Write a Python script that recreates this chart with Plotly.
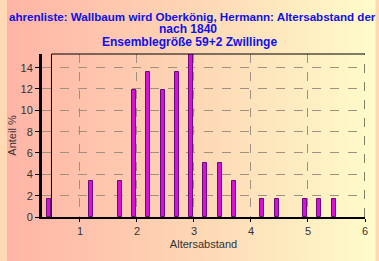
import plotly.graph_objects as go
import base64

# Data (percent of 59 siblings)
abstand = [0.45, 1.2, 1.7, 1.95, 2.2, 2.45, 2.7, 2.95, 3.2, 3.45, 3.7, 4.2, 4.45, 4.95, 5.2, 5.45]
anteil = [1.69, 3.39, 3.39, 11.86, 13.56, 11.86, 13.56, 15.25, 5.08, 5.08, 3.39, 1.69, 1.69, 1.69, 1.69, 1.69]
x_ticks = [1, 2, 3, 4, 5, 6]
y_ticks = [0, 2, 4, 6, 8, 10, 12, 14]

title1 = "ahrenliste: Wallbaum wird Oberkönig, Hermann: Altersabstand der Kinder"
title2 = "nach 1840"
title3 = "Ensemblegröße 59+2 Zwillinge"

W, H = 379, 261
ml, mr, mt, mb = 36, 11, 54, 44
pw, ph = W - ml - mr, H - mt - mb

svg = (
    '<svg xmlns="http://www.w3.org/2000/svg" width="379" height="261">'
    '<defs><linearGradient id="g" x1="0" y1="0" x2="1" y2="0">'
    '<stop offset="0" stop-color="#FFB4A6"/>'
    '<stop offset="0.5" stop-color="#FDD6B4"/>'
    '<stop offset="1" stop-color="#FFFCCA"/>'
    '</linearGradient></defs>'
    '<rect width="379" height="261" fill="url(#g)"/></svg>'
)
src = "data:image/svg+xml;base64," + base64.b64encode(svg.encode()).decode()

fig = go.Figure()
fig.add_trace(go.Bar(
    x=abstand, y=anteil, width=0.07,
    marker=dict(color="#D810D8", line=dict(color="#6A0A7A", width=1)),
))

fig.add_layout_image(dict(
    source=src, xref="paper", yref="paper",
    x=-ml / pw, y=1 + mt / ph, sizex=W / pw, sizey=H / ph,
    sizing="stretch", xanchor="left", yanchor="top", layer="below",
))

tcol = "#1010E8"
fig.add_annotation(text="<b>" + title1 + "</b>", xref="paper", yref="paper",
                   x=-ml / pw + 1 / pw, y=1 + (mt - 16) / ph, xanchor="left", yanchor="middle",
                   showarrow=False, borderpad=0,
                   font=dict(family="Liberation Sans", size=11.6, color=tcol))
fig.add_annotation(text="<b>" + title2 + "</b>", xref="paper", yref="paper",
                   x=(186 - ml) / pw, y=1 + (mt - 29) / ph, xanchor="center", yanchor="middle",
                   showarrow=False, borderpad=0,
                   font=dict(family="Liberation Sans", size=12, color=tcol))
fig.add_annotation(text="<b>" + title3 + "</b>", xref="paper", yref="paper",
                   x=(188 - ml) / pw, y=1 + (mt - 41.5) / ph, xanchor="center", yanchor="middle",
                   showarrow=False, borderpad=0,
                   font=dict(family="Liberation Sans", size=12, color=tcol))

# frame
fig.add_shape(type="line", xref="x", yref="paper", x0=0.5, x1=0.5, y0=0, y1=1,
              line=dict(color="black", width=1))
fig.add_shape(type="line", xref="x", yref="paper", x0=0.5, x1=6, y0=1, y1=1,
              line=dict(color="black", width=1))
fig.add_shape(type="line", xref="x", yref="paper", x0=6, x1=6, y0=0, y1=1,
              line=dict(color="black", width=1, dash="dash"))

fig.update_layout(
    width=W, height=H,
    margin=dict(l=ml, r=mr, t=mt, b=mb),
    paper_bgcolor="#FFD8B4", plot_bgcolor="rgba(0,0,0,0)",
    showlegend=False, bargap=0,
    font=dict(family="Liberation Sans", size=11, color="#333333"),
)
fig.update_xaxes(
    range=[0.334, 6], tickvals=x_ticks, ticktext=[str(v) for v in x_ticks],
    showgrid=True, gridcolor="#A09080", griddash="dash", gridwidth=1,
    zeroline=False, showline=True, linecolor="black", linewidth=2,
    ticks="outside", ticklen=3, tickcolor="black",
    title=dict(text="Altersabstand", standoff=4, font=dict(size=11)),
    tickfont=dict(size=11),
)
fig.update_yaxes(
    range=[0, 15.28], tickvals=y_ticks,
    showgrid=True, gridcolor="#A09080", griddash="dash", gridwidth=1,
    zeroline=False, showline=True, linecolor="black", linewidth=3,
    ticks="outside", ticklen=4, tickcolor="black",
    title=dict(text="Anteil %", standoff=2, font=dict(size=11)),
    tickfont=dict(size=11),
)

fig.write_html("out.html")
